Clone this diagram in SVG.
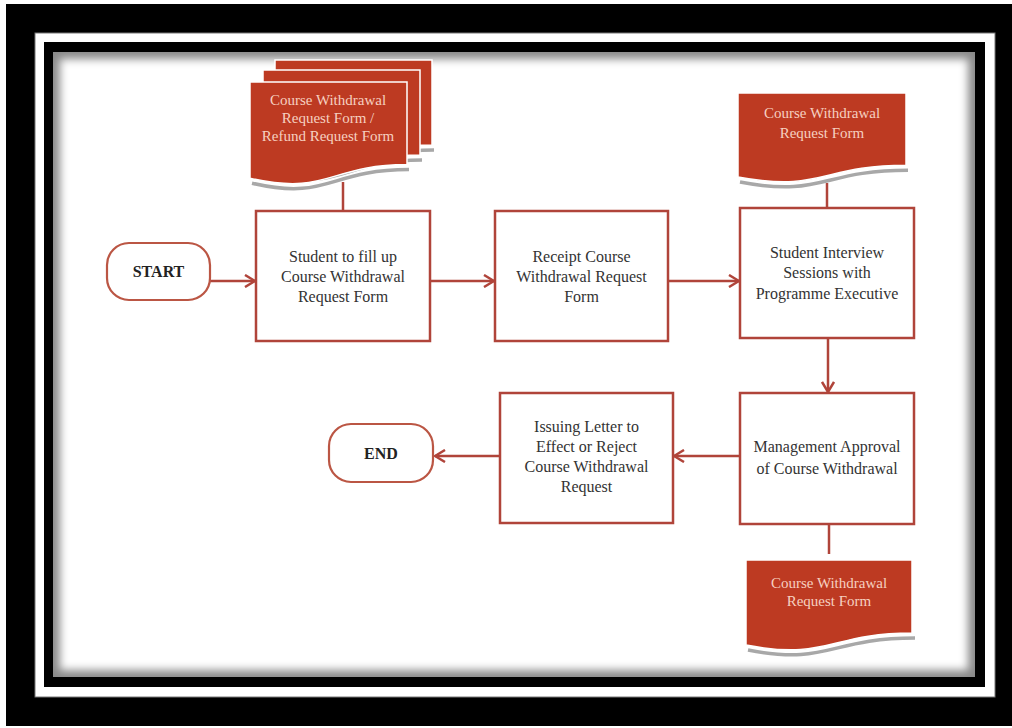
<svg xmlns="http://www.w3.org/2000/svg" width="1012" height="728" viewBox="0 0 1012 728">
<style>
.box{fill:#fff;stroke:#b0443a;stroke-width:2.5}
.term{fill:#fff;stroke:#bb5644;stroke-width:2.2}
.doc{fill:#bd3a22;stroke:#fff;stroke-width:1.5}
.shd{fill:none;stroke:#a8a8a8;stroke-width:3.5}
.t{font-family:"Liberation Serif","Times New Roman",serif;font-size:16px;fill:#333;text-anchor:middle}
.tb{font-family:"Liberation Serif","Times New Roman",serif;font-size:16px;font-weight:bold;fill:#222;text-anchor:middle}
.dt{font-family:"Liberation Serif","Times New Roman",serif;font-size:15px;fill:#f6d0c0;text-anchor:middle}
.ln{fill:none;stroke:#b0443a;stroke-width:2.5}
</style>
<defs>
<marker id="ah" viewBox="0 0 12 14" refX="11" refY="7" markerWidth="12" markerHeight="14" markerUnits="userSpaceOnUse" orient="auto">
<path d="M1,1 L11,7 L1,13" fill="none" stroke="#b0443a" stroke-width="2.5"/>
</marker>
<filter id="blur" x="-5%" y="-5%" width="110%" height="110%"><feGaussianBlur stdDeviation="4"/></filter>
<clipPath id="cc"><rect x="53" y="52" width="922" height="625"/></clipPath>
</defs>
<rect width="1012" height="728" fill="#fff"/>
<g id="frame">
<rect x="6" y="4" width="1006" height="722" fill="#000"/>
<rect x="35" y="33" width="960" height="664" fill="#fff" stroke="#777" stroke-width="1"/>
<rect x="44" y="42" width="941" height="645" fill="#000"/>
<g clip-path="url(#cc)">
<rect x="53" y="52" width="922" height="625" fill="#8a8a8a"/>
<rect x="60" y="59" width="908" height="611" fill="#fff" filter="url(#blur)"/>
</g>
</g>
<g id="connectors">
<path class="ln" d="M343,182 V211"/>
<path class="ln" d="M827,183 V208"/>
<path class="ln" d="M829,524 V554"/>
<path class="ln" d="M210,281 H255" marker-end="url(#ah)"/>
<path class="ln" d="M430,281 H494" marker-end="url(#ah)"/>
<path class="ln" d="M668,281 H739" marker-end="url(#ah)"/>
<path class="ln" d="M828,338 V392" marker-end="url(#ah)"/>
<path class="ln" d="M740,456 H674" marker-end="url(#ah)"/>
<path class="ln" d="M500,456 H435" marker-end="url(#ah)"/>
</g>
<g id="start">
<rect class="term" x="107" y="243" width="103" height="57" rx="22"/>
<text class="tb" x="158.5" y="277">START</text>
</g>
<g id="docMulti">
<path class="shd" d="M277,164 C353.5,182.4 353.5,150 434,150"/>
<path class="doc" d="M275,60 H432 V145 C353.5,145 353.5,177.4 275,159 Z"/>
<path class="shd" d="M265,174 C341.5,192.4 341.5,160 422,160"/>
<path class="doc" d="M263,70 H420 V155 C341.5,155 341.5,187.4 263,169 Z"/>
<path class="shd" d="M252,183.2 C328.5,201.1 328.5,169.6 409,169.6"/>
<path class="doc" d="M250,82 H407 V164.6 C328.5,164.6 328.5,196.1 250,178.2 Z"/>
<text class="dt" x="328" y="105">Course Withdrawal</text>
<text class="dt" x="328" y="123">Request Form /</text>
<text class="dt" x="328" y="141">Refund Request Form</text>
</g>
<g id="box1">
<rect class="box" x="256" y="211" width="174" height="130"/>
<text class="t" x="343" y="262">Student to fill up</text>
<text class="t" x="343" y="282">Course Withdrawal</text>
<text class="t" x="343" y="302">Request Form</text>
</g>
<g id="box2">
<rect class="box" x="495" y="211" width="173" height="130"/>
<text class="t" x="581.5" y="262">Receipt Course</text>
<text class="t" x="581.5" y="282">Withdrawal Request</text>
<text class="t" x="581.5" y="302">Form</text>
</g>
<g id="docTop">
<path class="shd" d="M740,182 C822,197.7 822,170.2 908,170.2"/>
<path class="doc" d="M738,93 H906 V165.2 C822,165.2 822,192.7 738,177 Z"/>
<text class="dt" x="822" y="118">Course Withdrawal</text>
<text class="dt" x="822" y="138">Request Form</text>
</g>
<g id="box3">
<rect class="box" x="740" y="208" width="174" height="130"/>
<text class="t" x="827" y="258">Student Interview</text>
<text class="t" x="827" y="278">Sessions with</text>
<text class="t" x="827" y="299">Programme Executive</text>
</g>
<g id="box4">
<rect class="box" x="740" y="393" width="174" height="131"/>
<text class="t" x="827" y="452">Management Approval</text>
<text class="t" x="827" y="474">of Course Withdrawal</text>
</g>
<g id="docBottom">
<path class="shd" d="M748,650 C829,665.8 829,638 915,638"/>
<path class="doc" d="M746,560 H912 V633 C829,633 829,660.8 746,645 Z"/>
<text class="dt" x="829" y="588">Course Withdrawal</text>
<text class="dt" x="829" y="606">Request Form</text>
</g>
<g id="box5">
<rect class="box" x="500" y="393" width="173" height="130"/>
<text class="t" x="586.5" y="432">Issuing Letter to</text>
<text class="t" x="586.5" y="452">Effect or Reject</text>
<text class="t" x="586.5" y="472">Course Withdrawal</text>
<text class="t" x="586.5" y="492">Request</text>
</g>
<g id="end">
<rect class="term" x="329" y="424" width="104" height="58" rx="22"/>
<text class="tb" x="381" y="459">END</text>
</g>
</svg>
